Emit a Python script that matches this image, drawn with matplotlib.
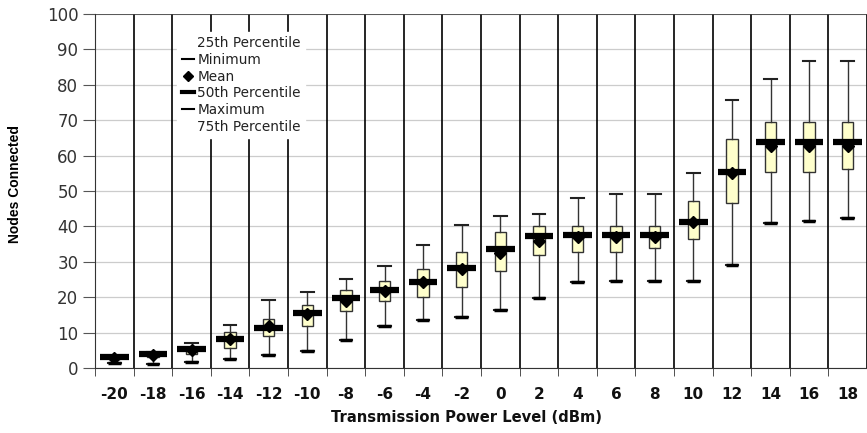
import matplotlib.pyplot as plt
from matplotlib.lines import Line2D

levels = [-20, -18, -16, -14, -12, -10, -8, -6, -4, -2, 0, 2, 4, 6, 8, 10, 12, 14, 16, 18]
minimum = [1.3, 1.1, 1.6, 2.5, 3.7, 4.9, 7.9, 11.9, 13.7, 14.3, 16.4, 19.9, 24.2, 24.7, 24.7, 24.7, 29.1, 40.9, 41.6, 42.3]
p25 = [2.5, 3.0, 4.1, 5.8, 9.0, 11.9, 16.1, 19.0, 20.0, 23.0, 27.4, 31.9, 32.9, 32.9, 33.8, 36.4, 46.5, 55.4, 55.4, 56.1]
p50 = [3.0, 4.1, 5.5, 8.1, 11.4, 15.6, 19.9, 22.0, 24.2, 28.2, 33.5, 37.3, 37.6, 37.5, 37.5, 41.3, 55.4, 63.9, 63.9, 63.9]
mean = [2.7, 3.6, 5.2, 8.3, 11.8, 15.2, 19.0, 21.7, 24.2, 27.9, 32.6, 35.9, 36.9, 36.9, 37.0, 41.3, 55.0, 62.8, 62.8, 62.8]
p75 = [3.3, 4.5, 6.0, 10.1, 13.8, 17.8, 22.0, 24.7, 27.9, 32.9, 38.3, 40.1, 40.1, 40.1, 40.1, 47.1, 64.6, 69.6, 69.6, 69.6]
maximum = [3.5, 4.6, 7.2, 12.1, 19.3, 21.5, 25.1, 28.8, 34.7, 40.4, 43.0, 43.5, 48.0, 49.2, 49.2, 55.0, 75.7, 81.5, 86.6, 86.6]

plt.rcParams['font.family'] = ['DejaVu Sans']

fig = plt.figure(figsize=(8.67, 4.33), dpi=100)
ax = fig.add_axes([95 / 867, 0.150, 772 / 867, 0.818])

pos = list(range(len(levels)))
stats = []
for i in pos:
    stats.append(dict(med=p50[i], q1=p25[i], q3=p75[i], whislo=minimum[i],
                      whishi=maximum[i], mean=mean[i], fliers=[]))

ax.bxp(stats, positions=pos, widths=0.3, patch_artist=True, showmeans=False,
       boxprops=dict(facecolor='#ffffcc', edgecolor='#333333', linewidth=1.0),
       whiskerprops=dict(color='#333333', linewidth=1.0),
       capprops=dict(color='#222222', linewidth=1.5), capwidths=0.33,
       medianprops=dict(linewidth=0), zorder=3)

# thicker minimum caps
ax.hlines(minimum, [p - 0.165 for p in pos], [p + 0.165 for p in pos],
          color='black', linewidth=2.5, zorder=4)
# 50th percentile bars
ax.hlines(p50, [p - 0.37 for p in pos], [p + 0.37 for p in pos],
          color='black', linewidth=4.5, zorder=5)
# means
ax.plot(pos, mean, linestyle='none', marker='D', markersize=6.5,
        color='black', zorder=6)

# vertical separators between levels
for b in range(len(levels) + 1):
    ax.plot([b - 0.5, b - 0.5], [0, 100], color='black', linewidth=1.2, zorder=2)

ax.set_xlim(-0.5, 19.3)
ax.set_ylim(0, 100)
ax.set_yticks(range(0, 101, 10))
ax.yaxis.grid(True, color='#cccccc', linewidth=0.9)
ax.set_axisbelow(True)
ax.axhline(100, color='#444444', linewidth=1.2, zorder=2)

ax.set_xticks(pos)
ax.set_xticklabels([str(v) for v in levels], fontweight='bold', fontsize=11)
ax.set_xticks([b - 0.5 for b in range(len(levels) + 1)], minor=True)
ax.tick_params(axis='x', which='major', length=0, pad=14, labelcolor='#111111')
ax.tick_params(axis='x', which='minor', length=6, color='#333333')
ax.tick_params(axis='y', labelsize=12, length=9, color='#555555', labelcolor='#333333', pad=3)

for s in ['top', 'right']:
    ax.spines[s].set_visible(False)
ax.spines['left'].set_color('#333333')
ax.spines['bottom'].set_color('#333333')

ax.set_xlabel('Transmission Power Level (dBm)', fontweight='bold', fontsize=10.6,
              color='#111111')
ax.xaxis.set_label_coords(0.481, -0.118)
ax.set_ylabel('Nodes Connected', fontsize=10, fontweight='bold',
              family=['Liberation Sans Narrow', 'Liberation Sans', 'DejaVu Sans'])
ax.yaxis.set_label_coords(-0.095, 0.52)

handles = [
    Line2D([], [], linestyle='none'),
    Line2D([], [], color='black', linewidth=1.5),
    Line2D([], [], color='black', linestyle='none', marker='D', markersize=5),
    Line2D([], [], color='black', linewidth=3),
    Line2D([], [], color='black', linewidth=1.5),
    Line2D([], [], linestyle='none'),
]
labels = ['25th Percentile', 'Minimum', 'Mean', '50th Percentile', 'Maximum', '75th Percentile']
leg = ax.legend(handles, labels, loc='upper left', bbox_to_anchor=(0.098, 0.968),
                frameon=True, fontsize=9.8, handlelength=0.9, handletextpad=0.25,
                labelspacing=0.2, borderpad=0.3, fancybox=False)
leg.get_frame().set_edgecolor('white')
leg.get_frame().set_alpha(1)
leg.set_zorder(10)
for t in leg.get_texts():
    t.set_color('#222222')

fig.savefig('out.png', dpi=100)
